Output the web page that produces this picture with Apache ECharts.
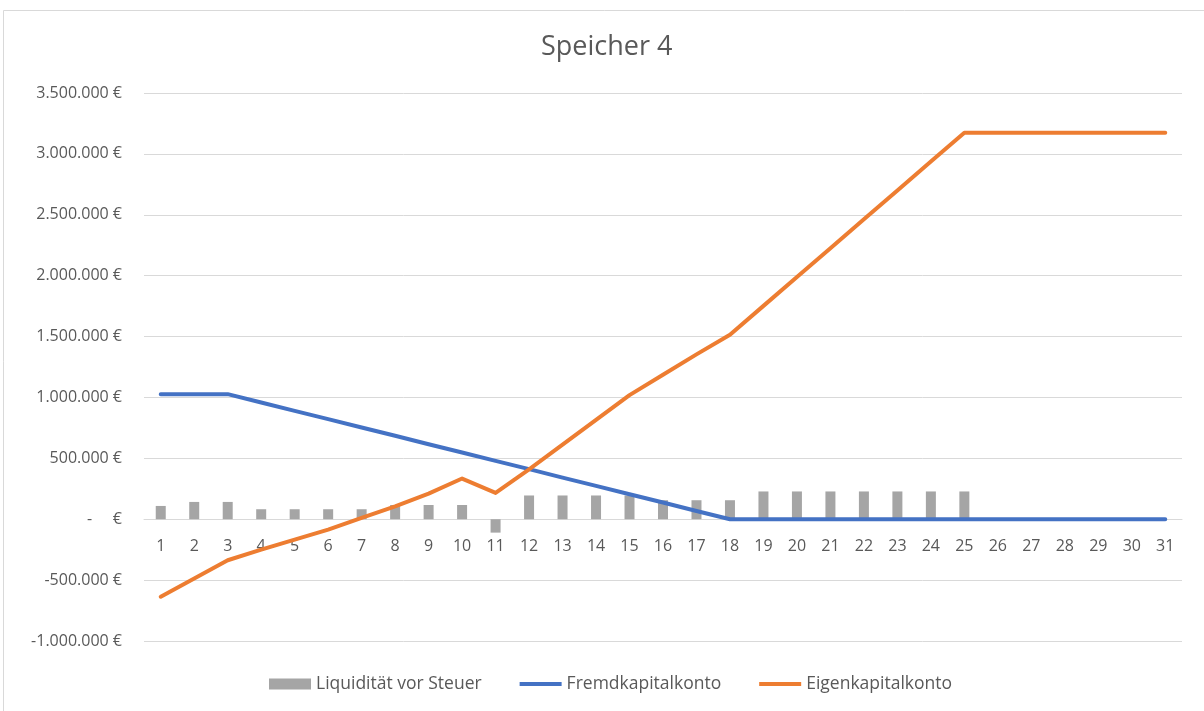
<!DOCTYPE html>
<html>
<head>
<meta charset="utf-8">
<script src="https://cdn.jsdelivr.net/npm/echarts@6/dist/echarts.min.js"></script>
<style>
html,body{margin:0;padding:0;background:#fff;}
#chart{width:1204px;height:711px;}
</style>
</head>
<body>
<div id="chart"></div>
<script>
const titleText = 'Speicher 4';
const categories = ['1','2','3','4','5','6','7','8','9','10','11','12','13','14','15','16','17','18','19','20','21','22','23','24','25','26','27','28','29','30','31'];
const liquiditaet = [109000,142000,142000,82000,82000,82000,82000,117000,117000,117000,-110000,195000,195000,195000,195000,156000,156000,156000,228000,228000,228000,228000,228000,228000,228000,null,null,null,null,null,null];
const fremdkapital = [1027000,1027000,1027000,959000,890000,822000,753000,685000,616000,548000,479000,411000,342000,274000,205000,137000,68000,0,0,0,0,0,0,0,0,0,0,0,0,0,0];
const eigenkapital = [-636000,-487000,-337000,-250000,-167000,-85000,11000,105000,210000,334000,216000,410000,613000,816000,1019000,1187000,1354000,1515000,1752000,1989000,2226000,2463000,2700000,2937000,3173000,3173000,3173000,3173000,3173000,3173000,3173000];
const seriesNames = ['Liquidität vor Steuer','Fremdkapitalkonto','Eigenkapitalkonto'];
const yMin = -1000000, yMax = 3500000, yStep = 500000;

function fmt(v){
  if (v === 0) return '-     €';
  const s = Math.abs(v).toString().replace(/\B(?=(\d{3})+(?!\d))/g, '.');
  return (v < 0 ? '-' : '') + s + ' €';
}

const GRID_TOP = 93, GRID_BOTTOM = 70, H = 711;
const plotH = H - GRID_TOP - GRID_BOTTOM;
// move category axis (line + labels) to the zero value
const zeroOffset = -plotH * (0 - yMin) / (yMax - yMin);

const FONT = "'Open Sans', sans-serif";
const TXT = '#595959';
const LINE_ICON = 'path://M0 0H42V4H0Z';
const chart = echarts.init(document.getElementById('chart'), null, {renderer:'canvas'});
chart.setOption({
  backgroundColor:'#ffffff',
  animation:false,
  graphic:[{type:'rect', shape:{x:3.5,y:10.5,width:1400,height:900}, style:{fill:'none', stroke:'#d9d9d9', lineWidth:1}, silent:true, z:-10}],
  title:{text:titleText, left:536, top:29, textStyle:{fontFamily:FONT, fontSize:27, fontWeight:'normal', color:TXT}},
  legend:{bottom:13, left:264, itemGap:38, itemWidth:42, itemHeight:11, symbolKeepAspect:true,
    textStyle:{fontFamily:FONT, fontSize:17.5, color:TXT},
    data:[{name:seriesNames[0], icon:'rect'}, {name:seriesNames[1], icon:LINE_ICON}, {name:seriesNames[2], icon:LINE_ICON}]},
  grid:{left:144, right:22, top:GRID_TOP, bottom:GRID_BOTTOM, containLabel:false},
  xAxis:{type:'category', data:categories, boundaryGap:true, position:'bottom', offset:zeroOffset,
    axisLine:{onZero:false, lineStyle:{color:'#d9d9d9', width:1}},
    axisTick:{show:false},
    axisLabel:{margin:19, fontFamily:FONT, fontSize:16, color:TXT, interval:0}},
  yAxis:{type:'value', min:yMin, max:yMax, interval:yStep,
    axisLine:{show:false}, axisTick:{show:false},
    splitLine:{lineStyle:{color:'#d9d9d9', width:1}},
    axisLabel:{margin:22, fontFamily:FONT, fontSize:16, color:TXT, formatter:fmt}},
  series:[
    {name:seriesNames[0], type:'bar', data:liquiditaet, barWidth:10, itemStyle:{color:'#a5a5a5'}, z:2},
    {name:seriesNames[1], type:'line', data:fremdkapital, symbol:'none', showSymbol:false, z:3,
      lineStyle:{color:'#4472c4', width:4, cap:'round', join:'round'}, itemStyle:{color:'#4472c4'}},
    {name:seriesNames[2], type:'line', data:eigenkapital, symbol:'none', showSymbol:false, z:4,
      lineStyle:{color:'#ed7d31', width:4, cap:'round', join:'round'}, itemStyle:{color:'#ed7d31'}}
  ]
});
</script>
</body>
</html>
